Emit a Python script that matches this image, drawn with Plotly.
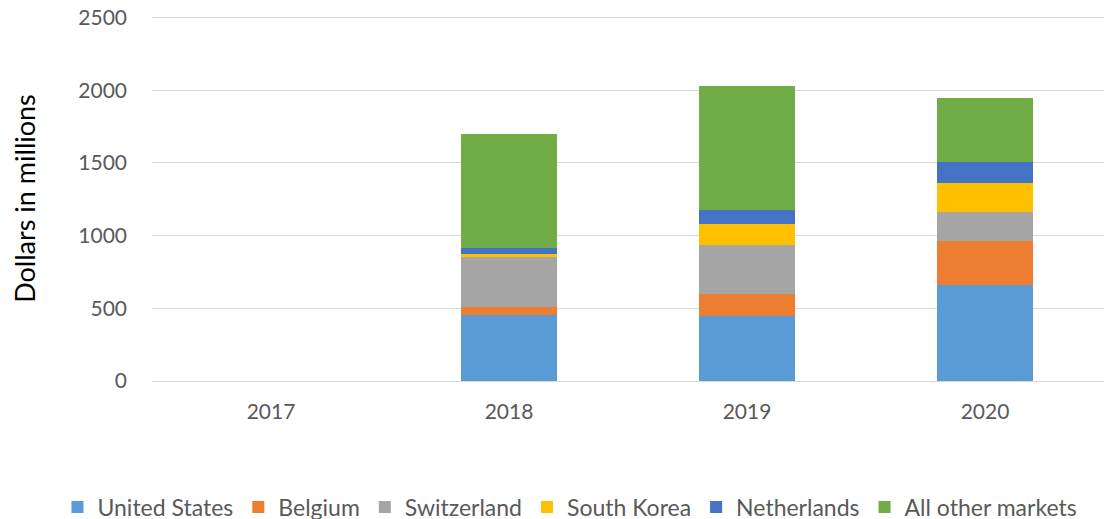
import plotly.graph_objects as go

years = ["2017", "2018", "2019", "2020"]
united_states = [None, 452, 445, 660]
belgium = [None, 59, 156, 303]
switzerland = [None, 340, 337, 200]
south_korea = [None, 20, 142, 197]
netherlands = [None, 46, 99, 145]
all_other = [None, 783, 853, 444]

series = [
    ("United States", united_states, "#5B9BD5"),
    ("Belgium", belgium, "#ED7D31"),
    ("Switzerland", switzerland, "#A5A5A5"),
    ("South Korea", south_korea, "#FFC000"),
    ("Netherlands", netherlands, "#4472C4"),
    ("All other markets", all_other, "#70AD47"),
]

fig = go.Figure()
for name, vals, color in series:
    fig.add_trace(go.Bar(x=years, y=vals, name=name, marker_color=color,
                         marker_line_width=0, width=0.4))

font = "Lato, 'Open Sans', sans-serif"
fig.update_layout(
    barmode="stack",
    width=1105, height=545,
    margin=dict(l=152, r=1, t=16, b=164),
    plot_bgcolor="white", paper_bgcolor="white",
    font=dict(family=font, color="#595959", size=20),
    showlegend=True,
    legend=dict(orientation="h", x=-0.0993, xanchor="left", y=-0.345, yanchor="middle",
                font=dict(size=23, color="#595959"), traceorder="normal",
                itemwidth=30),
    xaxis=dict(showgrid=False, showline=True, linecolor="#D9D9D9", linewidth=1,
               ticks="", ticklabelstandoff=12, tickfont=dict(size=21),
               automargin=False),
    yaxis=dict(range=[0, 2510], tickvals=[0, 500, 1000, 1500, 2000, 2500],
               gridcolor="#D9D9D9", gridwidth=1,
               zeroline=False, ticks="", ticklabelstandoff=24,
               tickfont=dict(size=21), automargin=False,
               title=dict(text="Dollars in millions", font=dict(size=27, color="#000000"),
                          standoff=34)),
)

fig.write_html(
    "out.html",
    config={"displayModeBar": False},
    post_script="document.body.style.margin='0';document.body.style.overflow='hidden';",
)
